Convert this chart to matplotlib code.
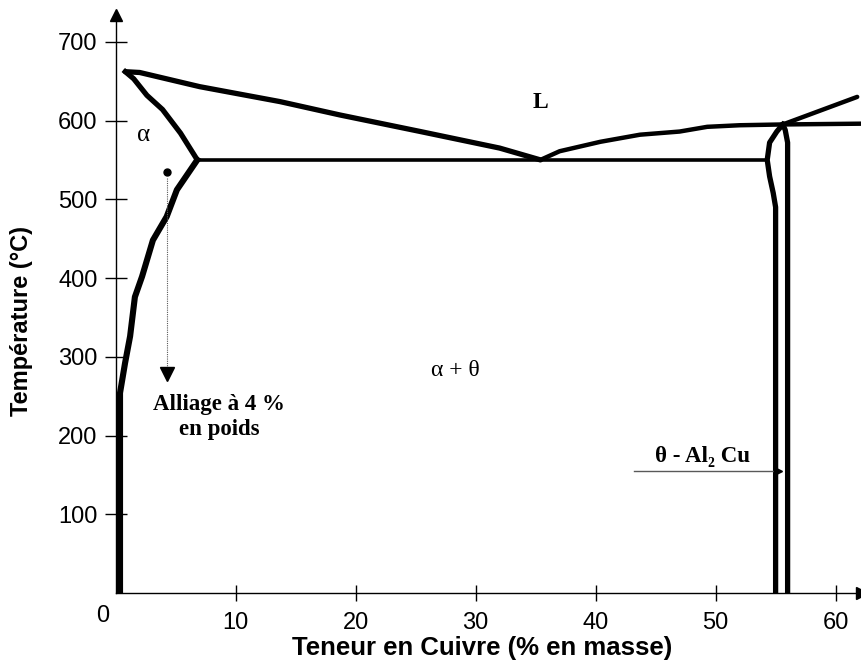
"""
Diagramme de phases Al-Cu (cote riche en aluminium).
Recreated as a matplotlib figure -> out.png
"""
import matplotlib
matplotlib.use("Agg")
import matplotlib.pyplot as plt

# --- data (x = % Cu en masse, y = temperature degC) ---
liq_left_x = [0.8, 2.0, 7.0, 13.7, 18.7, 25.4, 32.0, 35.4]
liq_left_y = [662, 661, 643, 624, 607, 586, 565, 550]

liq_right_x = [35.4, 37.0, 40.4, 43.7, 47.0, 49.3, 52.0, 55.6, 62.2]
liq_right_y = [550, 561, 573, 582, 586, 592, 594, 595, 596]

upper_x = [55.6, 61.8]
upper_y = [595, 630]

solidus_x = [0.8, 1.5, 2.6, 3.9, 5.4, 6.8]
solidus_y = [662, 653, 632, 614, 584, 550]

solvus_x = [6.8, 5.1, 4.25, 3.1, 2.2, 1.6, 1.2, 0.78, 0.36, 0.36]
solvus_y = [550, 512, 478, 448, 402, 376, 326, 292, 254, 0]

eutectic_x = [6.8, 54.3]
eutectic_y = [550, 550]

theta_left_x = [55.0, 55.0, 54.8, 54.5, 54.3, 54.5, 55.1, 55.6]
theta_left_y = [0, 490, 508, 529, 550, 572, 586, 595]
theta_right_x = [56.0, 56.0, 55.8, 55.6]
theta_right_y = [0, 572, 588, 595]

alloy_x = 4.3
alloy_top = 535
alloy_bottom = 278

x_ticks = [10, 20, 30, 40, 50, 60]
y_ticks = [100, 200, 300, 400, 500, 600, 700]

SANS = ["Liberation Sans", "DejaVu Sans"]
SERIF = ["Liberation Serif", "DejaVu Serif"]

fig = plt.figure(figsize=(8.62, 6.68), dpi=100)
ax = fig.add_axes([115.7 / 862, 75 / 668, 746.3 / 862, 578 / 668])
ax.set_xlim(0, 62.2)
ax.set_ylim(0, 734)

lw = 3.8
ax.plot(liq_left_x, liq_left_y, color="black", lw=lw, solid_capstyle="round")
ax.plot(liq_right_x, liq_right_y, color="black", lw=lw - 0.6, solid_capstyle="round")
ax.plot(upper_x, upper_y, color="black", lw=lw - 0.6, solid_capstyle="round")
ax.plot(solidus_x, solidus_y, color="black", lw=lw, solid_joinstyle="round")
ax.plot(solvus_x, solvus_y, color="black", lw=lw + 0.6, solid_joinstyle="round")
ax.plot(eutectic_x, eutectic_y, color="black", lw=lw - 1.2)
ax.plot(theta_left_x, theta_left_y, color="black", lw=lw)
ax.plot(theta_right_x, theta_right_y, color="black", lw=lw)

# alloy at 4 % : dot, dotted drop line and arrow head
ax.plot([alloy_x], [alloy_top], "o", color="black", ms=5)
ax.plot([alloy_x, alloy_x], [alloy_top - 8, alloy_bottom + 8],
        color="0.35", lw=0.8, ls=(0, (1, 1)))
ax.plot([alloy_x], [alloy_bottom], "v", color="black", ms=10)

# theta arrow
ax.plot([43.2, 55.0], [155, 155], color="0.35", lw=1.0)
ax.plot([55.2], [155], ">", color="black", ms=6)

# axes: only left/bottom with arrow tips
for s in ("top", "right"):
    ax.spines[s].set_visible(False)
for s in ("left", "bottom"):
    ax.spines[s].set_linewidth(1.0)
ax.plot([0], [734], "^", color="black", ms=9, clip_on=False)
ax.plot([62.2], [0], ">", color="black", ms=9, clip_on=False)

ax.set_xticks(x_ticks)
ax.set_yticks(y_ticks)
ax.tick_params(axis="y", direction="inout", length=16, width=1.0, pad=5,
               labelsize=17)
ax.tick_params(axis="x", direction="inout", length=12, width=1.0, pad=8,
               labelsize=17)
for lab in ax.get_xticklabels() + ax.get_yticklabels():
    lab.set_family(SANS)
ax.text(-1.05, -29, "0", ha="center", va="center", fontsize=17, family=SANS)

# labels inside the diagram
ax.text(2.3, 582, "α", ha="center", va="center", fontsize=18, family=SERIF)
ax.text(35.4, 623, "L", ha="center", va="center", fontsize=17,
        fontweight="bold", family=SERIF)
ax.text(28.3, 283, "α + θ", ha="center", va="center", fontsize=17, family=SERIF)
ax.text(8.6, 239, "Alliage à 4 %", ha="center", va="center", fontsize=16.5,
        fontweight="bold", family=SERIF)
ax.text(8.6, 207, "en poids", ha="center", va="center", fontsize=16.5,
        fontweight="bold", family=SERIF)
ax.text(48.9, 173, "θ - Al₂ Cu", ha="center", va="center", fontsize=16.5,
        fontweight="bold", family=SERIF)

fig.text(22 / 862, 1 - 321 / 668, "Température (°C)", rotation=90,
         ha="center", va="center", fontsize=17, fontweight="bold", family=SANS)
fig.text(482 / 862, 1 - 648 / 668, "Teneur en Cuivre (% en masse)",
         ha="center", va="center", fontsize=18.5, fontweight="bold", family=SANS)

fig.savefig("out.png", dpi=100)
